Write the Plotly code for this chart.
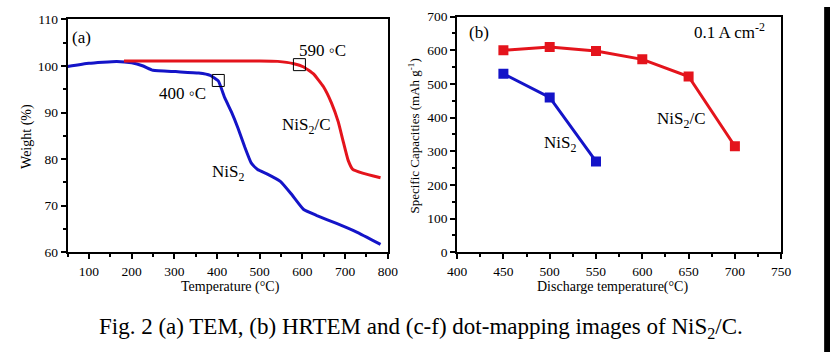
import plotly.graph_objects as go

W, H = 840, 360

# ---- Panel (a): TGA ----
nis2_T = [50, 100, 165, 200, 227, 250, 303, 357, 384, 403, 418, 434, 449, 465, 480, 495, 518, 549, 576, 603, 634, 680, 726, 783]
nis2_W = [99.9, 100.6, 101.0, 100.7, 100.0, 99.1, 98.8, 98.5, 98.0, 96.8, 93.2, 90.1, 86.7, 82.6, 79.2, 77.8, 76.8, 75.2, 72.3, 69.2, 67.9, 66.2, 64.4, 61.7]
nisc_T = [182, 300, 400, 500, 542, 580, 603, 626, 649, 668, 684, 695, 707, 718, 741, 783]
nisc_W = [101.1, 101.1, 101.1, 101.1, 101.0, 100.5, 99.8, 98.3, 95.6, 92.1, 88.0, 84.0, 79.8, 77.8, 77.0, 76.0]
box_T = [403, 593]
box_W = [96.9, 100.3]

# ---- Panel (b): capacities ----
dis_T_c = [450, 500, 550, 600, 650, 700]
cap_c = [600, 610, 598, 573, 522, 315]
dis_T_n = [450, 500, 550]
cap_n = [530, 460, 270]

BLUE = "#1414c8"
RED = "#e4141c"
FONT = "Liberation Serif"

fig = go.Figure()
fig.add_trace(go.Scatter(x=nis2_T, y=nis2_W, mode="lines", line=dict(color=BLUE, width=3, shape="spline", smoothing=0.4),
                         xaxis="x", yaxis="y"))
fig.add_trace(go.Scatter(x=nisc_T, y=nisc_W, mode="lines", line=dict(color=RED, width=3, shape="spline", smoothing=0.4),
                         xaxis="x", yaxis="y"))
fig.add_trace(go.Scatter(x=box_T, y=box_W, mode="markers",
                         marker=dict(symbol="square-open", size=12, color="black", line=dict(width=1, color="black")),
                         xaxis="x", yaxis="y"))
fig.add_trace(go.Scatter(x=dis_T_c, y=cap_c, mode="lines+markers", line=dict(color=RED, width=3),
                         marker=dict(symbol="square", size=10, color=RED), xaxis="x2", yaxis="y2"))
fig.add_trace(go.Scatter(x=dis_T_n, y=cap_n, mode="lines+markers", line=dict(color=BLUE, width=3),
                         marker=dict(symbol="square", size=10, color=BLUE), xaxis="x2", yaxis="y2"))

def px_x(p): return p / W
def px_y(p): return 1 - p / H

axis_common = dict(showline=True, linecolor="black", linewidth=2, mirror=True, showgrid=False, zeroline=False,
                   ticks="outside", ticklen=5, tickwidth=1.5, tickcolor="black",
                   tickfont=dict(family=FONT, size=13.5, color="black"))

fig.update_layout(
    width=W, height=H, margin=dict(l=0, r=0, t=0, b=0),
    paper_bgcolor="white", plot_bgcolor="white", showlegend=False,
    font=dict(family=FONT, color="black"),
    xaxis=dict(domain=[px_x(59), px_x(387)], range=[50, 800], dtick=100, tick0=0, anchor="y",
               minor=dict(ticks="outside", ticklen=3, dtick=50, tick0=0, tickcolor="black"), **axis_common),
    yaxis=dict(domain=[px_y(256), px_y(13)], range=[60, 110], dtick=10, anchor="x",
               minor=dict(ticks="outside", ticklen=3, dtick=5, tick0=0, tickcolor="black"), **axis_common),
    xaxis2=dict(domain=[px_x(458), px_x(790)], range=[400, 750], dtick=50, tick0=0, anchor="y2",
                minor=dict(ticks="outside", ticklen=3, dtick=25, tick0=0, tickcolor="black"), **axis_common),
    yaxis2=dict(domain=[px_y(256), px_y(10)], range=[0, 700], dtick=100, anchor="x2",
                minor=dict(ticks="outside", ticklen=3, dtick=50, tick0=0, tickcolor="black"), **axis_common),
)

def ann(text, x, y, size=16, **kw):
    fig.add_annotation(text=text, x=x / W, y=1 - y / H, xref="paper", yref="paper", showarrow=False,
                       xanchor="center", yanchor="middle",
                       font=dict(family=FONT, size=size, color="black"), **kw)

# panel (a) texts
ann("(a)", 73, 32, size=17)
ann("590 ◦C", 320, 45, size=17)
ann("400 ◦C", 177, 90, size=17)
ann("NiS<sub>2</sub>/C", 303, 124, size=17)
ann("NiS<sub>2</sub>", 223, 173, size=17)
ann("Temperature (°C)", 226, 292, size=14)
ann("Weight (%)", 18, 135, size=14, textangle=-90)

# panel (b) texts
ann("(b)", 480, 27, size=17)
ann("0.1 A cm<sup>-2</sup>", 737, 25, size=17)
ann("NiS<sub>2</sub>/C", 687, 118, size=17)
ann("NiS<sub>2</sub>", 563, 143, size=17)
ann("Discharge temperature(°C)", 617, 292, size=14)
ann("Specific Capacities (mAh g<sup>-1</sup>)", 414, 135, size=13, textangle=-90)

# caption
ann("Fig. 2 (a) TEM, (b) HRTEM and (c-f) dot-mapping images of NiS<sub>2</sub>/C.", 421, 335, size=23)

# dark strip at right edge
fig.add_shape(type="rect", xref="paper", yref="paper", x0=834 / W, x1=1, y0=0, y1=1,
              fillcolor="black", line=dict(width=0), layer="above")

fig.write_html("out.html", config={"displayModeBar": False},
               post_script="document.body.style.margin='0';document.body.style.overflow='hidden';")
